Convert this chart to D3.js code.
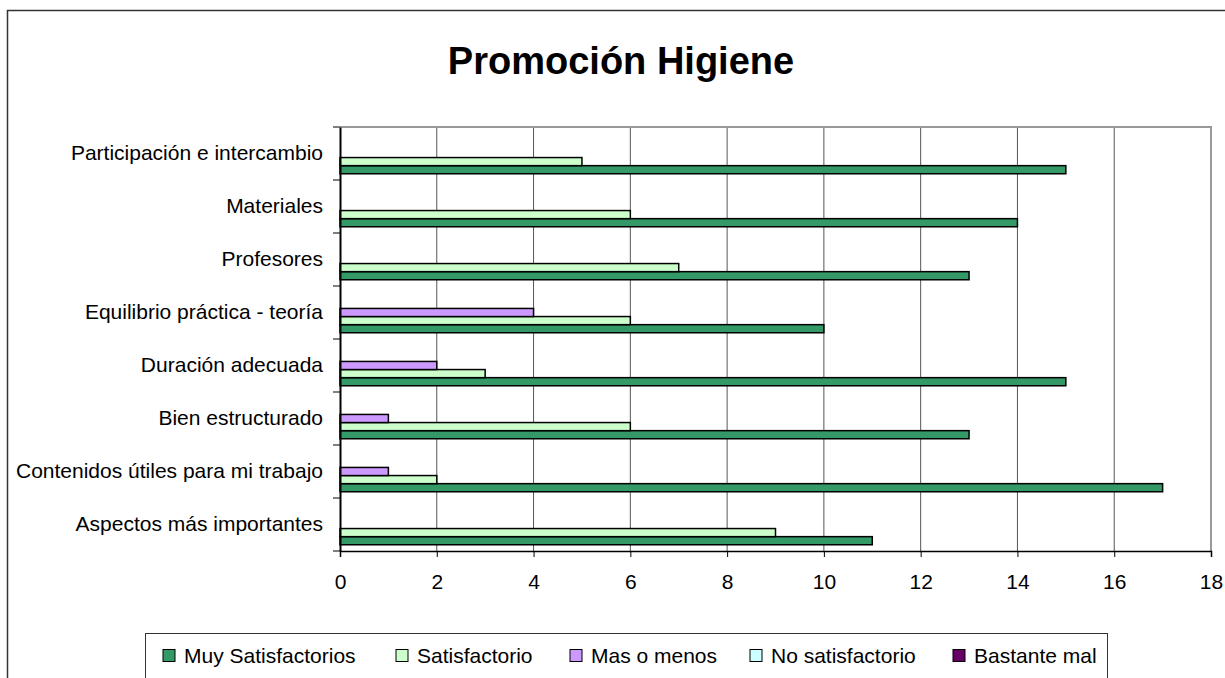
<!DOCTYPE html>
<html>
<head>
<meta charset="utf-8">
<script src="https://cdn.jsdelivr.net/npm/d3@7"></script>
<style>
  body { margin: 0; background: #fff; }
  text { font-family: "Liberation Sans", Arial, sans-serif; fill: #000; }
</style>
</head>
<body>
<div id="chart"></div>
<script>
// DATOS

const categories = [
  "Participación e intercambio",
  "Materiales",
  "Profesores",
  "Equilibrio práctica - teoría",
  "Duración adecuada",
  "Bien estructurado",
  "Contenidos útiles para mi trabajo",
  "Aspectos más importantes"
]
const seriesNames = ["Muy Satisfactorios", "Satisfactorio", "Mas o menos", "No satisfactorio", "Bastante mal"]
const seriesColors = ["#339966", "#CCFFCC", "#CC99FF", "#CCFFFF", "#660066"]

const muySatisfactorios = [15, 14, 13, 10, 15, 13, 17, 11]
const satisfactorio     = [5, 6, 7, 6, 3, 6, 2, 9]
const masOMenos         = [0, 0, 0, 4, 2, 1, 1, 0]
const noSatisfactorio   = [0, 0, 0, 0, 0, 0, 0, 0]
const bastanteMal       = [0, 0, 0, 0, 0, 0, 0, 0]
const seriesValues = [muySatisfactorios, satisfactorio, masOMenos, noSatisfactorio, bastanteMal]

const xTicks = [0, 2, 4, 6, 8, 10, 12, 14, 16, 18]

// CONSTANTES

const width = 1225
const height = 678
const plot = { left: 340, right: 1211, top: 127, bottom: 551 }
const fontSize = 21

const svg = d3.select("#chart").append("svg").attr("width", width).attr("height", height)

// marco exterior
svg.append("rect").attr("x", 7.5).attr("y", 10.5).attr("width", 1240).attr("height", 700)
  .attr("fill", "none").attr("stroke", "#333").attr("stroke-width", 1.5)

// titulo
svg.append("text").attr("x", 621).attr("y", 73.5).attr("text-anchor", "middle")
  .attr("font-size", 38).attr("font-weight", "bold").text("Promoción Higiene")

// ESCALAS

const x = d3.scaleLinear().domain([0, 18]).range([plot.left, plot.right])
const y = d3.scaleBand().domain(categories).range([plot.top, plot.bottom])
const inner = d3.scaleBand().domain(d3.range(5).reverse()).range([0, y.bandwidth()]).paddingOuter(0.77)

// rejilla
svg.append("g").selectAll("line").data(xTicks.slice(1, -1)).join("line")
  .attr("x1", d => x(d)).attr("x2", d => x(d))
  .attr("y1", plot.top).attr("y2", plot.bottom)
  .attr("stroke", "#555").attr("stroke-width", 1)

// borde del area de trazado
svg.append("path")
  .attr("d", `M${plot.left},${plot.top}H${plot.right}V${plot.bottom}`)
  .attr("fill", "none").attr("stroke", "#999").attr("stroke-width", 2)

// BARRAS

const groups = svg.append("g").selectAll("g").data(categories).join("g")
  .attr("transform", d => `translate(0,${y(d)})`)

groups.selectAll("rect")
  .data((c, i) => seriesValues.map((vals, s) => ({ s: s, v: vals[i] })).filter(d => d.v > 0))
  .join("rect")
  .attr("x", x(0))
  .attr("y", d => inner(d.s))
  .attr("width", d => x(d.v) - x(0))
  .attr("height", inner.bandwidth())
  .attr("fill", d => seriesColors[d.s])
  .attr("stroke", "#000").attr("stroke-width", 1.5)

// EJES

const xAxis = d3.axisBottom(x).tickValues(xTicks).tickSize(6)
const yAxis = d3.axisLeft(y).tickSize(0).tickPadding(17)

const xAxisGroup = svg.append("g").attr("transform", `translate(0,${plot.bottom})`).call(xAxis)
xAxisGroup.selectAll("text").attr("font-size", fontSize).attr("font-family", "Liberation Sans, Arial, sans-serif")
  .attr("y", 38).attr("dy", 0)
xAxisGroup.select(".domain").attr("stroke", "#000").attr("stroke-width", 1.5)
xAxisGroup.selectAll(".tick line").attr("stroke", "#000")

const yAxisGroup = svg.append("g").attr("transform", `translate(${plot.left},0)`).call(yAxis)
yAxisGroup.selectAll("text").attr("font-size", fontSize).attr("font-family", "Liberation Sans, Arial, sans-serif")
yAxisGroup.select(".domain").attr("stroke", "#000").attr("stroke-width", 2)

// marcas entre categorias
svg.append("g").selectAll("line").data(d3.range(categories.length + 1)).join("line")
  .attr("x1", plot.left - 7).attr("x2", plot.left)
  .attr("y1", i => plot.top + i * y.step()).attr("y2", i => plot.top + i * y.step())
  .attr("stroke", "#000").attr("stroke-width", 1)

// LEYENDA

const legend = svg.append("g")
legend.append("rect").attr("x", 145.5).attr("y", 633.5).attr("width", 962).attr("height", 80)
  .attr("fill", "#fff").attr("stroke", "#333").attr("stroke-width", 1)

const legendX = [163, 396, 570, 750, 953]
const items = legend.selectAll("g.item").data(seriesNames).join("g").attr("class", "item")
  .attr("transform", (d, i) => `translate(${legendX[i]},649.5)`)
items.append("rect").attr("width", 12).attr("height", 12)
  .attr("fill", (d, i) => seriesColors[i]).attr("stroke", "#000").attr("stroke-width", 1)
items.append("text").attr("x", 21).attr("y", 13).attr("font-size", fontSize).text(d => d)
</script>
</body>
</html>
